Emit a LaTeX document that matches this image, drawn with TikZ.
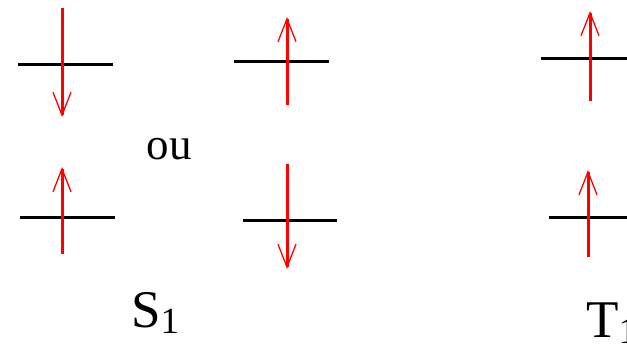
\documentclass[tikz,border=0pt]{standalone}
\usepackage{fontspec}
\setmainfont{Liberation Serif}
\usetikzlibrary{arrows.meta}
\begin{document}
\begin{tikzpicture}[x=1pt,y=-1pt,
  level/.style={draw=black,line width=3pt},
  spin/.style={draw=red,line width=3pt,-{Straight Barb[length=23pt,width=18pt,line width=1.3pt]}},
  lbl/.style={inner sep=0pt,font=\fontsize{53}{53}\selectfont},
  sub/.style={font=\fontsize{37}{37}\selectfont}]
\useasboundingbox (0,0) rectangle (627,344);
% levels
\coordinate (a1) at (18,65);  \coordinate (b1) at (113,65);
\coordinate (a2) at (20,218); \coordinate (b2) at (115,218);
\coordinate (a3) at (234,62); \coordinate (b3) at (329,62);
\coordinate (a4) at (243,221);\coordinate (b4) at (337,221);
\coordinate (a5) at (541,59); \coordinate (b5) at (627,59);
\coordinate (a6) at (549,218);\coordinate (b6) at (627,218);
\foreach \i in {1,...,6} \draw[level] (a\i) -- (b\i);
% spins
\coordinate (s1) at (62,8);   \coordinate (e1) at (62,117);
\coordinate (s2) at (62,254); \coordinate (e2) at (62,167);
\coordinate (s3) at (287,105);\coordinate (e3) at (287,17);
\coordinate (s4) at (287,164);\coordinate (e4) at (287,269);
\coordinate (s5) at (590,101);\coordinate (e5) at (590,11);
\coordinate (s6) at (588,257);\coordinate (e6) at (588,170);
\foreach \i in {1,...,6} \draw[spin] (s\i) -- (e\i);
% labels
\node[lbl,anchor=base,font=\fontsize{45}{45}\selectfont] (ou) at (169,160) {ou};
\node[lbl,anchor=base west] (S1) at (131,328) {S\raisebox{-6pt}{\fontsize{37}{37}\selectfont 1}};
\node[lbl,anchor=base west] (T1) at (586,338) {T\raisebox{-6pt}{\fontsize{37}{37}\selectfont 1}};
\end{tikzpicture}
\end{document}
